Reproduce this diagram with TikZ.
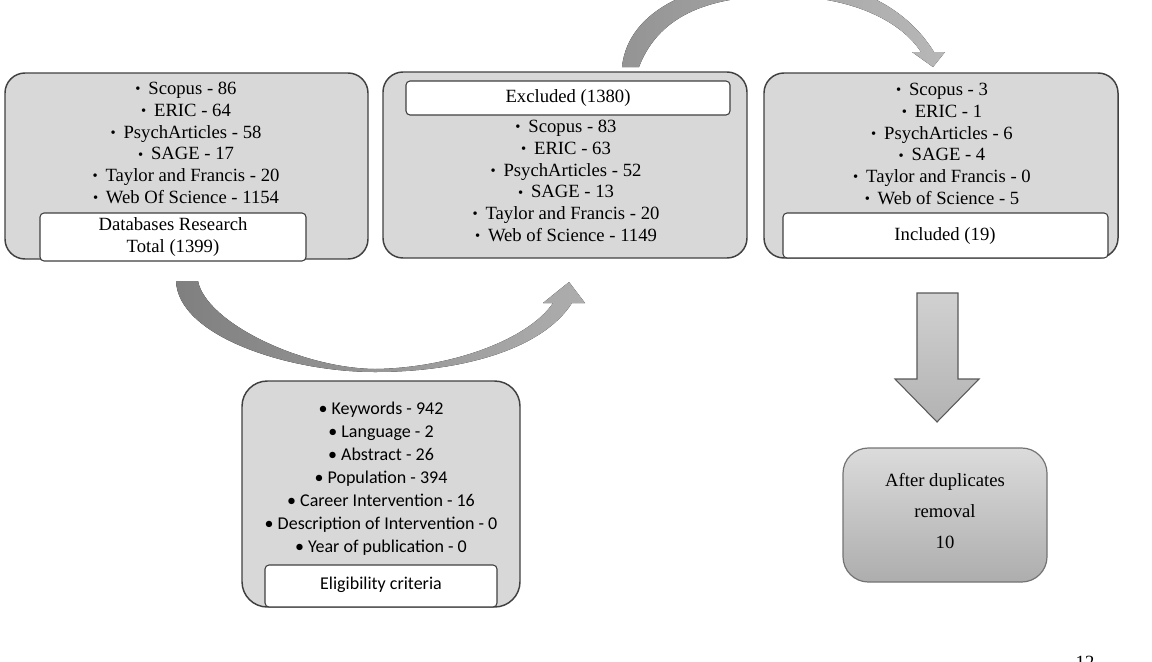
\documentclass[tikz,border=0pt]{standalone}
\usepackage{fontspec}
\setmainfont{Liberation Serif}
\newfontfamily\calib{Carlito}
\usetikzlibrary{fit}
\definecolor{boxfill}{RGB}{216,216,216}
\definecolor{boxline}{RGB}{64,64,64}
\newcommand{\bul}{{\fontsize{11}{11}\selectfont\raisebox{0.6pt}{•}}\hspace{0.42em}}
\tikzset{
 bigbox/.style={draw=boxline, line width=1.1pt, fill=boxfill, rounded corners=15pt, inner sep=0pt},
 labelbox/.style={draw=boxline, line width=0.8pt, fill=white, rounded corners=3pt, inner sep=0pt},
 txt/.style={align=center, font=\fontsize{14}{16.3}\selectfont, inner sep=0pt},
 stxt/.style={align=center, font=\calib\fontsize{13.5}{17.25}\selectfont, inner sep=0pt},
}
\begin{document}
\begin{tikzpicture}[x=0.75pt,y=-0.75pt]
\useasboundingbox (0,0) rectangle (1152,661);

% top curved arrow (Excluded -> Included)
\begin{scope}
\clip (0,0) rectangle (1152,661);
\fill[left color=black!42, right color=black!28]
 (622,67) -- (639,67)
 .. controls (660,12) and (715,-4) .. (780,-4)
 .. controls (850,-4) and (900,20) .. (921,52)
 -- (912,52) -- (933,67) -- (945,52) -- (934,52)
 .. controls (905,5) and (850,-21) .. (780,-21)
 .. controls (700,-21) and (628,8) .. (622,67) -- cycle;
\end{scope}

% boxes
\node[bigbox, fit={(5,73)(368,259)}] (db) {};
\node[txt] (dbt) at (186,143) {\bul Scopus - 86\\\bul ERIC - 64\\\bul PsychArticles - 58\\\bul SAGE - 17\\\bul Taylor and Francis - 20\\\bul Web Of Science - 1154};
\node[labelbox, fit={(40,213)(306,261)}] (dbl) {};
\node[txt] (dblt) at (173,237) {Databases Research\\Total (1399)};

\node[bigbox, fit={(383,72)(747,258)}] (ex) {};
\node[labelbox, fit={(406,81)(730,115)}] (exl) {};
\node[txt] (exlt) at (568,98) {Excluded (1380)};
\node[txt] (ext) at (566,181) {\bul Scopus - 83\\\bul ERIC - 63\\\bul PsychArticles - 52\\\bul SAGE - 13\\\bul Taylor and Francis - 20\\\bul Web of Science - 1149};

\node[bigbox, fit={(764,73)(1118,258)}] (in) {};
\node[txt] (int) at (942,144) {\bul Scopus - 3\\\bul ERIC - 1\\\bul PsychArticles - 6\\\bul SAGE - 4\\\bul Taylor and Francis - 0\\\bul Web of Science - 5};
\node[labelbox, fit={(783,213)(1108,258)}] (inl) {};
\node[txt] (inlt) at (945,236) {Included (19)};

\node[bigbox, rounded corners=19pt, fit={(242,381)(520,607)}] (el) {};
\node[stxt] (elt) at (381,479) {• Keywords - 942\\• Language - 2\\• Abstract - 26\\• Population - 394\\• Career Intervention - 16\\• Description of Intervention - 0\\• Year of publication - 0};
\node[labelbox, fit={(265,565)(497,607)}] (ell) {};
\node[stxt] (ellt) at (381,585) {Eligibility criteria};

\node[draw=black!55, line width=0.9pt, top color=black!14, bottom color=black!32, rounded corners=19pt, inner sep=0pt, fit={(843,448)(1047,582)}] (dup) {};
\node[align=center, font=\fontsize{14}{23.5}\selectfont, inner sep=0pt] (dupt) at (945,511) {After duplicates\\removal\\10};

% bottom curved arrow (Databases -> Excluded)
\fill[left color=black!50, right color=black!32]
 (176,281) -- (198,281)
 .. controls (206,322) and (300,368) .. (375,369)
 .. controls (450,368) and (528,340) .. (553,303)
 -- (543,303) -- (569,282) -- (585,303) -- (572,303)
 .. controls (542,350) and (460,372) .. (375,372)
 .. controls (288,372) and (178,336) .. (176,281) -- cycle;

% down arrow (Included -> After duplicates)
\draw[draw=black!65, line width=0.8pt, top color=black!18, bottom color=black!30]
 (917,293) -- (958,293) -- (958,379) -- (979,379) -- (937,422) -- (895,379) -- (917,379) -- cycle;

\node[font=\fontsize{14}{16}\selectfont, anchor=north, inner sep=0pt] (pg) at (1085,656) {12};
\end{tikzpicture}
\end{document}
